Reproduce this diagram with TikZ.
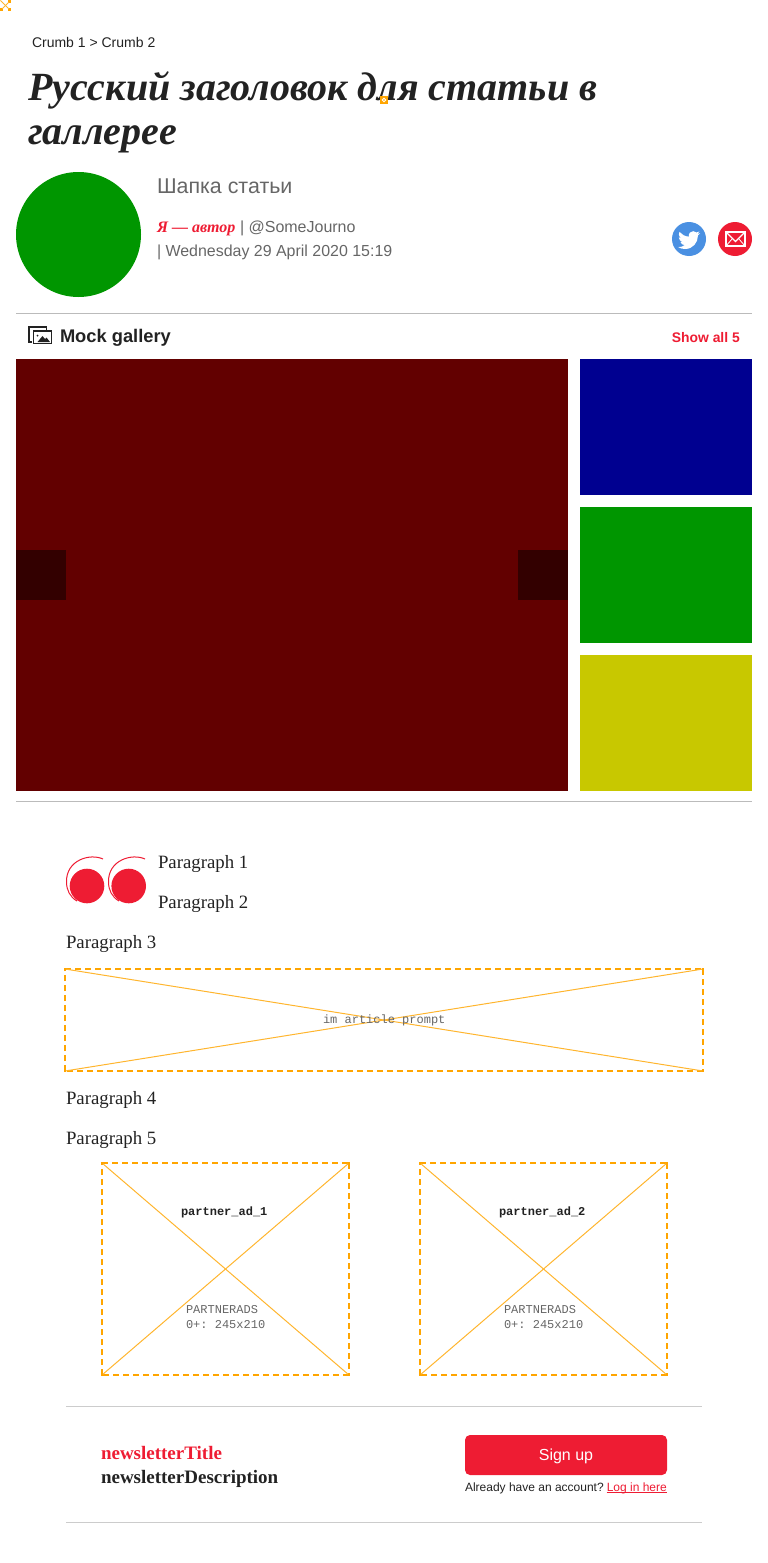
\documentclass[tikz,border=0pt]{standalone}
\usepackage{fontspec}
\setmainfont{Liberation Sans}
\newfontfamily\serifface{Liberation Serif}
\newfontfamily\monoface{Liberation Mono}
\definecolor{inkdark}{HTML}{222222}
\definecolor{inkgrey}{HTML}{666666}
\definecolor{accent}{HTML}{EE1C33}
\definecolor{adorange}{HTML}{FFA500}
\definecolor{crosslight}{HTML}{FFB52E}
\definecolor{rulegrey}{HTML}{BBBBBB}
\definecolor{rulelight}{HTML}{CCCCCC}
\definecolor{tweetblue}{HTML}{4A90E2}
\definecolor{galleryred}{HTML}{620000}
\definecolor{arrowdark}{HTML}{330000}
\definecolor{galleryblue}{HTML}{000090}
\definecolor{gallerygreen}{HTML}{009600}
\definecolor{galleryyellow}{HTML}{C8C800}
\tikzset{
  txt/.style={anchor=base west, inner sep=0pt, outer sep=0pt},
  para/.style={txt, font=\serifface\fontsize{18.8}{24}\selectfont, text=inkdark},
  tile/.style={inner sep=0pt, outer sep=0pt, anchor=north west},
  addash/.style={adorange, line width=2.5pt, dash pattern=on 6pt off 4pt},
  adcross/.style={crosslight, line width=1pt},
  admono/.style={txt, font=\monoface\frenchspacing\fontsize{12}{14}\selectfont, text=inkgrey},
  adbold/.style={txt, font=\monoface\bfseries\fontsize{12}{14}\selectfont, text=inkdark}
}
% dashed frame and crossing lines of a placeholder
\newcommand{\adframe}[1]{
  \draw[addash] (#1.north west) -- (#1.north east);
  \draw[addash] (#1.north east) -- (#1.south east);
  \draw[addash] (#1.south east) -- (#1.south west);
  \draw[addash] (#1.south west) -- (#1.north west);
  \draw[adcross] (#1.north west) -- (#1.south east);
  \draw[adcross] (#1.north east) -- (#1.south west);
  \foreach \corner in {north west, north east, south east, south west}
    \fill[adorange] ([shift={(-1.25pt,-1.25pt)}]#1.\corner) rectangle ([shift={(1.25pt,1.25pt)}]#1.\corner);
}
\begin{document}
\begin{tikzpicture}[x=1pt,y=-1pt]
\useasboundingbox (0,0) rectangle (768,1563);

%Top placeholder
\node[tile, minimum size=10pt] (topmark) at (0.5,0.5) {};
\draw[adcross, line width=0.8pt] (topmark.north west) -- (topmark.south east);
\draw[adcross, line width=0.8pt] (topmark.north east) -- (topmark.south west);
\draw[adorange, line width=1.6pt] (8,0.8) -- (10.2,0.8) -- (10.2,3);
\draw[adorange, line width=1.6pt] (0.8,8) -- (0.8,10.2) -- (3,10.2);
\draw[adorange, line width=1.6pt] (8,10.2) -- (10.2,10.2) -- (10.2,8);

%Header
\node[txt, font=\fontsize{14}{16}\selectfont, text=inkdark] (crumbs) at (32,47.5) {Crumb 1 > Crumb 2};
\node[txt, font=\serifface\bfseries\itshape\fontsize{40}{44}\selectfont, text=inkdark] (titleone) at (28,100) {Русский заголовок для статьи в};
\node[txt, font=\serifface\bfseries\itshape\fontsize{40}{44}\selectfont, text=inkdark] (titletwo) at (28,144) {галлерее};
\node[tile, fill=adorange, minimum size=8pt] (dotmark) at (380,96) {};
\node[circle, draw=white, line width=0.8pt, inner sep=0pt, minimum size=3.5pt] (dotring) at (dotmark.center) {};

%Byline
\node[circle, fill=gallerygreen, inner sep=0pt, minimum size=125pt] (avatar) at (78.5,234.5) {};
\node[txt, font=\fontsize{21.4}{24}\selectfont, text=inkgrey] (standfirst) at (157,193) {Шапка статьи};
\node[txt, font=\serifface\bfseries\itshape\fontsize{16}{20}\selectfont, text=accent] (author) at (157,232) {Я — автор};
\node[txt, font=\fontsize{16}{20}\selectfont, text=inkgrey] (handle) at (240,232) {| @SomeJourno};
\node[txt, font=\fontsize{15.95}{20}\selectfont, text=inkgrey] (dateline) at (157,256) {| Wednesday 29 April 2020 15:19};

%Share buttons
\node[circle, fill=tweetblue, inner sep=0pt, minimum size=34pt] (twitter) at (689,239) {};
\node[circle, fill=accent, inner sep=0pt, minimum size=34pt] (mail) at (735,239) {};
\begin{scope}[shift={(678,229)},x=0.92pt,y=-0.92pt]
\fill[white] (23.95,4.57) .. controls (23.07,4.96) and (22.12,5.22) .. (21.13,5.35)
  .. controls (22.15,4.74) and (22.92,3.77) .. (23.29,2.62)
  .. controls (22.34,3.18) and (21.29,3.58) .. (20.16,3.81)
  .. controls (18.3,1.8) and (14.9,1.9) .. (13,3.9)
  .. controls (11.8,5.1) and (11.4,6.9) .. (11.78,8.29)
  .. controls (7.69,8.1) and (4.07,6.13) .. (1.64,3.16)
  .. controls (1.2,3.9) and (0.97,4.75) .. (0.97,5.64)
  .. controls (0.97,7.35) and (1.84,8.85) .. (3.16,9.73)
  .. controls (2.35,9.7) and (1.6,9.48) .. (0.93,9.12)
  -- (0.93,9.18)
  .. controls (0.93,11.56) and (2.63,13.55) .. (4.88,14)
  .. controls (4.16,14.2) and (3.4,14.23) .. (2.67,14.09)
  .. controls (3.3,16.05) and (5.1,17.45) .. (7.27,17.5)
  .. controls (5.5,18.9) and (3.3,19.6) .. (1.17,19.61)
  .. controls (0.78,19.61) and (0.39,19.59) .. (0,19.54)
  .. controls (2.2,20.95) and (4.8,21.75) .. (7.56,21.75)
  .. controls (16.61,21.75) and (21.56,14.25) .. (21.56,7.77)
  .. controls (21.56,7.56) and (21.56,7.35) .. (21.54,7.14)
  .. controls (22.5,6.45) and (23.34,5.58) .. (23.95,4.59) -- cycle;
\end{scope}
\node[tile, draw=white, line width=1.2pt, minimum width=19pt, minimum height=14pt] (envelope) at (726,232) {};
\coordinate (envmid) at (735.5,241.5);
\draw[white, line width=1.2pt] (envelope.north west) -- (envmid) -- (envelope.north east);
\draw[white, line width=0.8pt] (envelope.south west) -- (732,239);
\draw[white, line width=0.8pt] (envelope.south east) -- (739,239);

%Gallery heading
\draw[rulegrey, line width=1pt] (16,313.5) -- (752,313.5);
\draw[inkdark, line width=1.7pt] (32,342) -- (29,342) -- (29,327) -- (46.5,327) -- (46.5,331);
\node[tile, draw=inkdark, fill=white, line width=1.7pt, minimum width=18pt, minimum height=12.5pt] (photoicon) at (33.5,331) {};
\fill[inkdark] (37.5,342) -- (42.5,336) -- (45,339) -- (46.5,337.5) -- (50,342) -- cycle;
\fill[inkdark] (37.5,335.5) circle (1);
\node[txt, font=\bfseries\fontsize{18.3}{22}\selectfont, text=inkdark] (gallerytitle) at (60,342) {Mock gallery};
\node[anchor=base east, inner sep=0pt, font=\bfseries\fontsize{13.9}{16}\selectfont, text=accent] (showall) at (740,342) {Show all 5};

%Gallery tiles
\node[tile, fill=galleryred, minimum width=552pt, minimum height=432pt] (mainshot) at (16,359) {};
\node[tile, fill=arrowdark, minimum size=50pt] (prevbtn) at (16,550) {};
\node[tile, fill=arrowdark, minimum size=50pt] (nextbtn) at (518,550) {};
\node[tile, fill=galleryblue, minimum width=172pt, minimum height=136pt] (thumbone) at (580,359) {};
\node[tile, fill=gallerygreen, minimum width=172pt, minimum height=136pt] (thumbtwo) at (580,507) {};
\node[tile, fill=galleryyellow, minimum width=172pt, minimum height=136pt] (thumbthree) at (580,655) {};
\draw[rulegrey, line width=1pt] (16,801.5) -- (752,801.5);

%Quote mark
\node[circle, fill=accent, inner sep=0pt, minimum size=34.6pt] (quoteone) at (87,886) {};
\node[circle, fill=accent, inner sep=0pt, minimum size=34.6pt] (quotetwo) at (128.7,886) {};
\draw[accent, line width=1pt] (103,859) .. controls (90,853) and (66,860) .. (66.5,882) .. controls (66.5,890) and (70,897) .. (77,901);
\draw[accent, line width=1pt] (145,859) .. controls (132,853) and (108,860) .. (108.5,882) .. controls (108.5,890) and (112,897) .. (119,901);

%Paragraphs
\node[para] (paraone) at (158,868) {Paragraph 1};
\node[para] (paratwo) at (158,908) {Paragraph 2};
\node[para] (parathree) at (66,948) {Paragraph 3};
\node[para] (parafour) at (66,1104) {Paragraph 4};
\node[para] (parafive) at (66,1144) {Paragraph 5};

%Article prompt
\node[tile, minimum width=638pt, minimum height=102pt] (prompt) at (65,969) {};
\adframe{prompt}
\node[admono] (prompttext) at (323,1023) {im article prompt};

%Partner ads
\node[tile, minimum width=247pt, minimum height=212pt] (adone) at (102,1163) {};
\adframe{adone}
\node[adbold] (adonename) at (181,1215) {partner\char`\_ad\char`\_1};
\node[admono] (adonetag) at (186,1313) {PARTNERADS};
\node[admono] (adonesize) at (186,1328) {0+: 245x210};

\node[tile, minimum width=247pt, minimum height=212pt] (adtwo) at (420,1163) {};
\adframe{adtwo}
\node[adbold] (adtwoname) at (499,1215) {partner\char`\_ad\char`\_2};
\node[admono] (adtwotag) at (504,1313) {PARTNERADS};
\node[admono] (adtwosize) at (504,1328) {0+: 245x210};

%Newsletter
\draw[rulelight, line width=1pt] (66,1406.5) -- (702,1406.5);
\node[txt, font=\serifface\bfseries\fontsize{19}{24}\selectfont, text=accent] (newstitle) at (101,1459) {newsletterTitle};
\node[txt, font=\serifface\bfseries\fontsize{19}{24}\selectfont, text=inkdark] (newsdesc) at (101,1483) {newsletterDescription};
\node[tile, fill=accent, rounded corners=5pt, minimum width=202pt, minimum height=40pt] (signup) at (465,1435) {};
\node[anchor=base, inner sep=0pt, font=\fontsize{16}{20}\selectfont, text=white] (signuptext) at (566,1460) {Sign up};
\node[txt, font=\fontsize{12}{14}\selectfont, text=inkdark] (already) at (465,1491) {Already have an account?};
\node[anchor=base east, inner sep=0pt, font=\fontsize{12}{14}\selectfont, text=accent] (login) at (667,1491) {Log in here};
\draw[accent, line width=0.9pt] ([yshift=-1.5pt]login.base west) -- ([yshift=-1.5pt]login.base east);
\draw[rulelight, line width=1pt] (66,1522.5) -- (702,1522.5);
\end{tikzpicture}
\end{document}
